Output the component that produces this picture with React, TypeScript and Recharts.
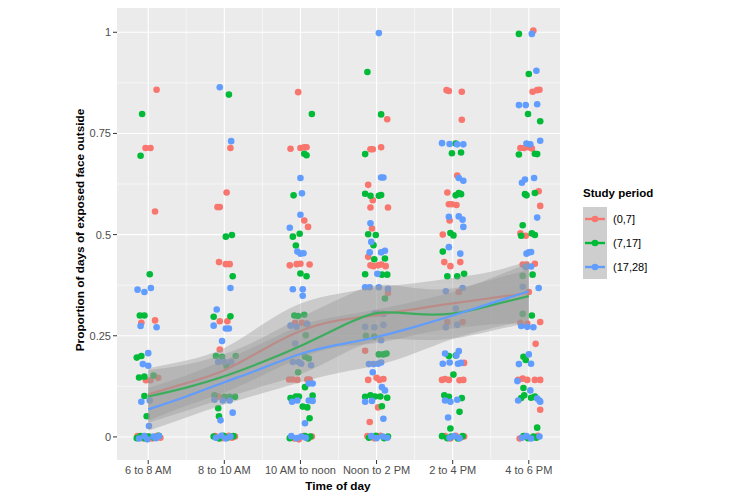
import React from "react";
import { ComposedChart, XAxis, YAxis, Scatter, Area, Line, ReferenceLine, CartesianGrid } from "recharts";

const timeSlots = ["6 to 8 AM", "8 to 10 AM", "10 AM to noon", "Noon to 2 PM", "2 to 4 PM", "4 to 6 PM"];
const slotTicks = [1, 2, 3, 4, 5, 6];
const yTicks = [0, 0.25, 0.5, 0.75, 1];
const yMinor = [0.125, 0.375, 0.625, 0.875];
const xMinor = [1.5, 2.5, 3.5, 4.5, 5.5];

const periods = ["(0,7]", "(7,17]", "(17,28]"];
const colors = ["#F8766D", "#00BA38", "#619CFF"];

// jittered points: [slot + jitter, proportion]
const pts07: [number, number][] = [
  [1.11, 0.858], [0.965, 0.714], [1.03, 0.714], [1.09, 0.557], [0.91, 0.282], [1.09, 0.288], [0.97, 0.14], [1.03, 0.14], [1.13, 0.146],
  [0.86, 0.002], [0.93, -0.003], [0.99, 0.001], [1.05, -0.004], [1.12, 0.003], [1.16, -0.002],
  [2.08, 0.714], [2.03, 0.604], [1.91, 0.568], [1.94, 0.568], [1.93, 0.432], [2.02, 0.427], [2.07, 0.427], [1.94, 0.286], [2.04, 0.286], [1.94, 0.216], [2.0, 0.095], [1.92, 0.1],
  [1.88, 0.002], [1.97, -0.003], [2.06, 0.003], [2.1, -0.002], [2.14, 0.001],
  [2.97, 0.852], [2.87, 0.712], [3.0, 0.714], [3.05, 0.716], [3.08, 0.716], [3.05, 0.535], [3.1, 0.519], [2.86, 0.424], [2.95, 0.427], [3.0, 0.428], [3.12, 0.426],
  [2.93, 0.282], [3.02, 0.282], [3.08, 0.28], [2.85, 0.142], [2.9, 0.142], [2.96, 0.141], [3.09, 0.142], [3.12, 0.142],
  [2.92, -0.004], [2.98, -0.006], [3.04, 0.002], [3.1, -0.003], [3.15, 0.001],
  [4.14, 0.785], [3.92, 0.711], [3.95, 0.711], [4.06, 0.716], [3.89, 0.623], [3.95, 0.585], [3.92, 0.567], [4.15, 0.567], [3.94, 0.515], [3.89, 0.445],
  [3.92, 0.424], [3.96, 0.422], [4.02, 0.424], [4.06, 0.426], [4.12, 0.422], [4.15, 0.356], [4.02, 0.305], [3.85, 0.213], [3.89, 0.141], [4.0, 0.146],
  [4.04, 0.141], [4.09, 0.143], [4.02, 0.073], [3.91, 0.037],
  [3.88, 0.002], [3.97, -0.003], [4.05, 0.003], [4.12, -0.002],
  [4.92, 0.857], [4.95, 0.855], [5.12, 0.853], [5.12, 0.784], [5.06, 0.646], [4.93, 0.604], [4.95, 0.575], [4.99, 0.575], [5.05, 0.573], [4.96, 0.535],
  [4.87, 0.5], [4.89, 0.432], [4.97, 0.422], [5.1, 0.432], [5.08, 0.358], [4.93, 0.284], [5.13, 0.284], [5.15, 0.183], [4.86, 0.141], [4.9, 0.143],
  [4.95, 0.141], [5.09, 0.14], [5.14, 0.141],
  [4.9, 0.002], [4.97, -0.004], [5.04, 0.003], [5.1, -0.002], [5.15, 0.001],
  [6.06, 1.004], [6.05, 0.853], [6.11, 0.857], [6.14, 0.858], [5.89, 0.714], [5.94, 0.714], [6.0, 0.716], [6.04, 0.713], [6.13, 0.607], [6.15, 0.571],
  [5.89, 0.503], [5.96, 0.497], [5.92, 0.426], [5.97, 0.426], [6.08, 0.428], [6.0, 0.358], [5.89, 0.282], [5.98, 0.28], [6.15, 0.284], [6.09, 0.23],
  [5.86, 0.141], [5.92, 0.144], [5.98, 0.141], [6.08, 0.141], [6.15, 0.141], [6.15, 0.067],
  [5.88, -0.004], [5.95, 0.002], [6.05, -0.002], [6.12, 0.003],
];

const pts717: [number, number][] = [
  [0.92, 0.798], [0.9, 0.695], [1.02, 0.402], [0.89, 0.3], [0.95, 0.3], [0.85, 0.196], [0.91, 0.2], [0.88, 0.147], [0.95, 0.149], [1.07, 0.152], [0.95, 0.101], [0.98, 0.051],
  [0.85, -0.003], [0.9, 0.002], [0.96, -0.004], [1.01, 0.001], [1.08, -0.002], [1.14, 0.003],
  [2.06, 0.846], [2.02, 0.495], [2.1, 0.499], [2.11, 0.397], [1.86, 0.297], [2.08, 0.298], [1.89, 0.2], [1.97, 0.198], [2.15, 0.2], [2.03, 0.175],
  [1.87, 0.103], [2.0, 0.099], [2.07, 0.099], [2.14, 0.099], [1.92, 0.071], [1.93, 0.051],
  [1.86, 0.001], [1.93, -0.004], [1.99, 0.003], [2.04, -0.002], [2.12, 0.002],
  [3.15, 0.798], [3.05, 0.7], [3.08, 0.696], [2.91, 0.597], [2.9, 0.495], [2.99, 0.502], [2.94, 0.473], [3.0, 0.404], [3.08, 0.397], [2.92, 0.3],
  [2.97, 0.299], [3.05, 0.302], [3.07, 0.251], [3.06, 0.198], [3.11, 0.194], [2.97, 0.16], [3.06, 0.123], [2.87, 0.096], [2.94, 0.1], [2.98, 0.1],
  [3.16, 0.102], [3.03, 0.075], [3.09, 0.073], [3.12, 0.046],
  [2.86, -0.003], [3.06, 0.002], [3.1, -0.004], [3.13, 0.001],
  [3.88, 0.902], [4.06, 0.797], [3.85, 0.699], [3.85, 0.601], [3.92, 0.596], [4.03, 0.596], [4.06, 0.598], [3.89, 0.501], [3.99, 0.499], [3.96, 0.474],
  [3.97, 0.439], [4.11, 0.441], [3.85, 0.402], [4.07, 0.401], [4.14, 0.401], [4.11, 0.342], [3.86, 0.25], [3.97, 0.248], [4.03, 0.204], [4.09, 0.204],
  [4.13, 0.206], [3.85, 0.099], [3.92, 0.103], [3.98, 0.1], [4.05, 0.1], [4.14, 0.097], [4.07, 0.076],
  [3.9, -0.002], [3.99, 0.003], [4.1, -0.003], [4.15, 0.001],
  [5.04, 0.725], [4.99, 0.701], [5.11, 0.703], [5.04, 0.597], [5.08, 0.603], [5.11, 0.6], [4.97, 0.504], [5.01, 0.498], [4.87, 0.458], [4.93, 0.397],
  [5.06, 0.397], [5.15, 0.403], [4.95, 0.2], [5.04, 0.201], [5.01, 0.154], [4.89, 0.103], [4.95, 0.099], [5.12, 0.096], [5.09, 0.062], [4.97, 0.021],
  [4.86, 0.002], [4.93, -0.003], [4.98, 0.001], [5.07, -0.004], [5.13, 0.002],
  [5.87, 0.996], [6.0, 0.897], [5.99, 0.798], [6.15, 0.78], [5.87, 0.698], [6.08, 0.7], [6.11, 0.699], [5.95, 0.6], [5.97, 0.597], [6.08, 0.603],
  [5.92, 0.523], [5.9, 0.497], [6.04, 0.503], [6.08, 0.499], [5.92, 0.398], [6.05, 0.401], [5.92, 0.304], [6.04, 0.3], [5.93, 0.198], [5.96, 0.19],
  [5.93, 0.121], [5.9, 0.096], [5.94, 0.103], [6.03, 0.097], [6.08, 0.1], [6.11, 0.023],
  [5.93, 0.002], [5.99, -0.003], [6.06, 0.001], [6.1, -0.002],
];

const pts1728: [number, number][] = [
  [0.86, 0.364], [0.95, 0.358], [1.035, 0.368], [0.9, 0.274], [1.11, 0.271], [1.0, 0.207], [0.93, 0.18], [1.0, 0.176], [0.91, 0.087], [1.02, 0.09], [1.01, 0.027],
  [0.88, -0.004], [0.95, 0.002], [0.99, -0.006], [1.07, 0.001], [1.1, -0.003], [1.14, 0.002],
  [1.94, 0.864], [2.09, 0.731], [2.08, 0.368], [1.9, 0.315], [1.86, 0.275], [2.02, 0.268], [2.06, 0.268], [1.97, 0.237], [1.92, 0.185], [2.0, 0.185],
  [2.09, 0.185], [1.87, 0.092], [1.98, 0.09], [2.07, 0.09], [2.11, 0.06], [1.95, 0.041],
  [1.89, -0.002], [1.96, 0.003], [2.02, -0.004], [2.08, 0.001],
  [3.0, 0.64], [3.02, 0.602], [3.0, 0.549], [2.86, 0.517], [2.96, 0.458], [3.0, 0.453], [3.04, 0.454], [2.9, 0.365], [3.03, 0.365], [3.03, 0.349],
  [2.87, 0.275], [2.95, 0.272], [3.09, 0.279], [2.93, 0.231], [2.9, 0.185], [2.98, 0.185], [3.01, 0.181], [3.14, 0.177], [3.11, 0.132], [3.16, 0.132],
  [2.89, 0.087], [2.96, 0.09], [3.11, 0.09], [3.16, 0.089], [3.06, 0.034],
  [2.88, 0.002], [2.95, -0.003], [3.01, 0.001], [3.07, -0.002],
  [4.03, 0.998], [4.06, 0.641], [4.09, 0.641], [3.92, 0.528], [3.93, 0.482], [3.91, 0.456], [4.06, 0.456], [4.11, 0.46], [4.01, 0.403], [3.85, 0.37],
  [3.91, 0.37], [4.03, 0.37], [4.15, 0.366], [3.98, 0.305], [4.09, 0.304], [3.85, 0.272], [3.97, 0.271], [4.09, 0.277], [4.06, 0.239], [3.9, 0.18],
  [3.96, 0.18], [4.02, 0.181], [4.06, 0.184], [3.95, 0.16], [4.07, 0.123], [4.11, 0.115], [3.85, 0.087], [3.94, 0.089], [4.09, 0.045],
  [3.93, 0.002], [4.0, -0.003], [4.08, 0.001], [4.14, -0.002],
  [4.86, 0.726], [4.96, 0.724], [5.06, 0.723], [5.14, 0.723], [5.08, 0.64], [5.14, 0.633], [4.95, 0.544], [5.08, 0.545], [5.13, 0.537], [5.14, 0.519],
  [4.95, 0.469], [5.1, 0.453], [4.91, 0.36], [5.13, 0.368], [5.04, 0.317], [4.91, 0.271], [5.06, 0.277], [5.08, 0.212], [4.9, 0.206], [5.05, 0.201],
  [4.87, 0.181], [4.96, 0.184], [5.07, 0.181], [5.11, 0.183], [4.9, 0.09], [4.97, 0.087], [5.06, 0.092], [4.94, 0.048],
  [4.96, -0.002], [5.02, 0.002], [5.09, -0.003],
  [6.04, 0.996], [6.1, 0.905], [5.87, 0.82], [5.96, 0.82], [6.11, 0.822], [6.15, 0.732], [5.97, 0.725], [6.02, 0.723], [5.91, 0.628], [5.95, 0.636],
  [6.07, 0.64], [6.11, 0.542], [5.97, 0.453], [6.0, 0.456], [6.03, 0.457], [5.96, 0.42], [6.03, 0.421], [5.92, 0.371], [6.13, 0.368], [5.9, 0.274],
  [5.98, 0.272], [6.06, 0.271], [6.0, 0.204], [5.87, 0.18], [6.03, 0.181], [5.85, 0.138], [6.02, 0.115], [5.86, 0.09], [6.11, 0.095], [6.14, 0.09], [6.15, 0.087],
  [5.91, -0.002], [5.97, 0.002], [6.03, -0.004], [6.14, 0.001],
];

// loess fits with confidence bands
const fitX = [1, 1.5, 2, 2.5, 3, 3.5, 4, 4.5, 5, 5.5, 6];
const fit07 = [0.105, 0.133, 0.165, 0.215, 0.262, 0.288, 0.301, 0.316, 0.33, 0.343, 0.356];
const lo07 = [0.04, 0.077, 0.11, 0.152, 0.195, 0.222, 0.232, 0.252, 0.268, 0.278, 0.28];
const hi07 = [0.17, 0.189, 0.22, 0.278, 0.33, 0.354, 0.37, 0.38, 0.393, 0.408, 0.435];
const fit717 = [0.1, 0.122, 0.15, 0.185, 0.225, 0.27, 0.306, 0.304, 0.305, 0.325, 0.348];
const lo717 = [0.035, 0.065, 0.095, 0.125, 0.155, 0.2, 0.238, 0.24, 0.243, 0.262, 0.282];
const hi717 = [0.165, 0.179, 0.205, 0.245, 0.295, 0.34, 0.375, 0.368, 0.367, 0.388, 0.414];
const fit1728 = [0.068, 0.1, 0.135, 0.17, 0.205, 0.228, 0.247, 0.272, 0.3, 0.33, 0.36];
const lo1728 = [0.015, 0.048, 0.08, 0.108, 0.135, 0.158, 0.177, 0.207, 0.242, 0.268, 0.29];
const hi1728 = [0.121, 0.152, 0.19, 0.232, 0.275, 0.298, 0.315, 0.335, 0.358, 0.392, 0.43];

const FONT = "'Liberation Sans', Arial, Helvetica, sans-serif";

const fitTable = fitX.map((x, i) => ({
  x,
  f0: fit07[i], b0: [lo07[i], hi07[i]],
  f1: fit717[i], b1: [lo717[i], hi717[i]],
  f2: fit1728[i], b2: [lo1728[i], hi1728[i]],
}));

const pointSets = [pts07, pts717, pts1728].map((s) => s.map(([x, y]) => ({ x, y })));

const dot = (color: string) => (props: any) => <circle cx={props.cx} cy={props.cy} r={3.3} fill={color} />;

function LegendBox() {
  return (
    <div style={{ position: "absolute", left: 583, top: 187, fontFamily: FONT }}>
      <div style={{ fontSize: 11.5, fontWeight: "bold", color: "#000", height: 20 }}>Study period</div>
      <div style={{ display: "flex" }}>
        <svg width={24} height={72}>
          <rect x={0} y={0} width={24} height={72} fill="#CECECE" />
          {colors.map((c, i) => (
            <g key={c}>
              <line x1={2} x2={22} y1={12 + i * 24} y2={12 + i * 24} stroke={c} strokeWidth={2.4} />
              <circle cx={12} cy={12 + i * 24} r={3.3} fill={c} />
            </g>
          ))}
        </svg>
        <div style={{ marginLeft: 6 }}>
          {periods.map((p) => (
            <div key={p} style={{ height: 24, lineHeight: "24px", fontSize: 11, color: "#000" }}>{p}</div>
          ))}
        </div>
      </div>
    </div>
  );
}

export default function App() {
  return (
    <div style={{ position: "relative", width: 733, height: 500, margin: -8, background: "#fff", fontFamily: FONT }}>
      <ComposedChart width={733} height={500} data={fitTable} margin={{ top: 8, right: 173, bottom: 0, left: 0 }}>
        <CartesianGrid fill="#EBEBEB" stroke="none" horizontal={false} vertical={false} />
        {yMinor.map((v) => (
          <ReferenceLine key={"ym" + v} y={v} stroke="#fff" strokeWidth={0.55} zIndex={-50} />
        ))}
        {xMinor.map((v) => (
          <ReferenceLine key={"xm" + v} x={v} stroke="#fff" strokeWidth={0.55} zIndex={-50} />
        ))}
        {yTicks.map((v) => (
          <ReferenceLine key={"y" + v} y={v} stroke="#fff" strokeWidth={1.1} zIndex={-50} />
        ))}
        {slotTicks.map((v) => (
          <ReferenceLine key={"x" + v} x={v} stroke="#fff" strokeWidth={1.1} zIndex={-50} />
        ))}
        <XAxis
          dataKey="x"
          type="number"
          domain={[0.59, 6.41]}
          allowDataOverflow
          ticks={slotTicks}
          interval={0}
          tickFormatter={(v: number) => timeSlots[v - 1]}
          height={40}
          axisLine={false}
          tickSize={4}
          tickLine={{ stroke: "#333333" }}
          tick={{ fontSize: 11, fill: "#4D4D4D", fontFamily: FONT }}
        />
        <YAxis
          type="number"
          domain={[-0.057, 1.06]}
          allowDataOverflow
          ticks={yTicks}
          interval={0}
          width={117}
          axisLine={false}
          tickSize={4}
          tickLine={{ stroke: "#333333" }}
          tick={{ fontSize: 11, fill: "#4D4D4D", fontFamily: FONT }}
        />
        {pointSets.map((d, i) => (
          <Scatter key={"s" + i} data={d} dataKey="y" shape={dot(colors[i])} isAnimationActive={false} zIndex={100} />
        ))}
        <Area dataKey="b0" type="natural" stroke="none" fill="#999999" fillOpacity={0.4} isAnimationActive={false} zIndex={201} />
        <Line dataKey="f0" type="natural" stroke={colors[0]} strokeWidth={2.2} dot={false} activeDot={false} isAnimationActive={false} zIndex={202} />
        <Area dataKey="b1" type="natural" stroke="none" fill="#999999" fillOpacity={0.4} isAnimationActive={false} zIndex={203} />
        <Line dataKey="f1" type="natural" stroke={colors[1]} strokeWidth={2.2} dot={false} activeDot={false} isAnimationActive={false} zIndex={204} />
        <Area dataKey="b2" type="natural" stroke="none" fill="#999999" fillOpacity={0.4} isAnimationActive={false} zIndex={205} />
        <Line dataKey="f2" type="natural" stroke={colors[2]} strokeWidth={2.2} dot={false} activeDot={false} isAnimationActive={false} zIndex={206} />
      </ComposedChart>
      <div
        style={{
          position: "absolute", left: 80, top: 230, transform: "translate(-50%, -50%) rotate(-90deg)",
          whiteSpace: "nowrap", fontSize: 11.8, fontWeight: "bold", color: "#000",
        }}
      >
        Proportion of days of exposed face outside
      </div>
      <div
        style={{
          position: "absolute", left: 338, top: 486, transform: "translate(-50%, -50%)",
          whiteSpace: "nowrap", fontSize: 11.8, fontWeight: "bold", color: "#000",
        }}
      >
        Time of day
      </div>
      <LegendBox />
    </div>
  );
}
